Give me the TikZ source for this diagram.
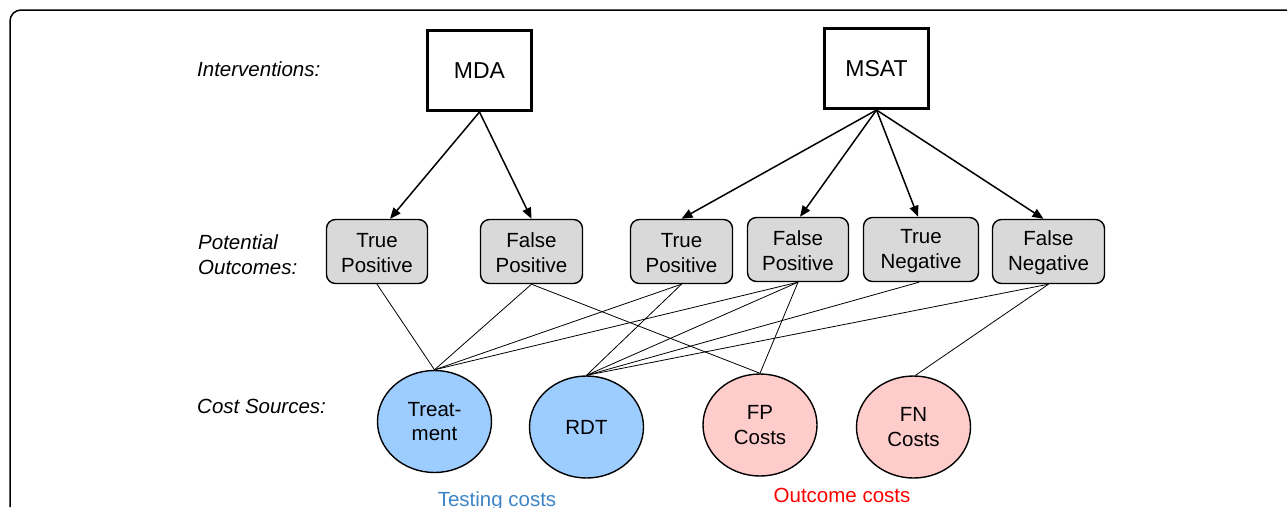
\documentclass[tikz,border=0pt]{standalone}
\usepackage{fontspec}
\setmainfont{Liberation Sans}
\usetikzlibrary{shapes.geometric,arrows.meta}
\definecolor{boxgray}{RGB}{217,217,217}
\definecolor{costblue}{RGB}{157,204,255}
\definecolor{costpink}{RGB}{255,204,204}
\definecolor{testblue}{RGB}{61,133,198}
\definecolor{outred}{RGB}{255,0,0}
\tikzset{
  x=1pt, y=-1pt,
  every node/.style={font=\fontsize{20.5}{24.5}\selectfont, inner sep=0pt},
  label/.style={font=\fontsize{20.5}{25}\selectfont\itshape, align=left},
  interv/.style={draw, line width=3pt, minimum width=104pt, minimum height=80pt, font=\fontsize{23}{27}\selectfont},
  outcome/.style={draw, line width=1.4pt, fill=boxgray, rounded corners=9pt, minimum height=64pt, align=center},
  cost/.style={draw, ellipse, line width=1.4pt, minimum width=114pt, minimum height=102pt, align=center},
  arr/.style={line width=1.5pt, -{Triangle[length=11pt,width=9pt]}},
  link/.style={line width=0.8pt},
}
\begin{document}
\begin{tikzpicture}
\useasboundingbox (0,0) rectangle (1287,507);
\draw[line width=1.5pt, rounded corners=11pt] (10,507) -- (10,10) -- (1287,10);

% row labels
\node[label, anchor=base west] (lint) at (197,76) {Interventions:};
\node[label, anchor=west] (lpot) at (198,255) {Potential\\Outcomes:};
\node[label, anchor=base west] (lcost) at (197,413) {Cost Sources:};

% interventions
\node[interv] (mda) at (479.5,70.5) {MDA};
\node[interv] (msat) at (876.5,68.5) {MSAT};

% outcomes
\node[outcome, minimum width=101pt] (tp1) at (377,251.5) {\strut True\\Positive};
\node[outcome, minimum width=102pt] (fp1) at (531.5,251.5) {\strut False\\Positive};
\node[outcome, minimum width=102pt] (tp2) at (681.5,251.5) {\strut True\\Positive};
\node[outcome, minimum width=101pt] (fp2) at (798,249.5) {\strut False\\Positive};
\node[outcome, minimum width=115pt] (tn) at (921,249.5) {\strut True\\Negative};
\node[outcome, minimum width=112pt] (fn) at (1048.5,251.5) {\strut False\\Negative};

% cost sources
\node[cost, fill=costblue] (trt) at (434.5,421.5) {Treat-\\ment};
\node[cost, fill=costblue] (rdt) at (586.5,427) {RDT};
\node[cost, fill=costpink] (fpc) at (760,425) {FP\\Costs};
\node[cost, fill=costpink] (fnc) at (913.5,427) {FN\\Costs};

% group captions
\node[text=testblue, anchor=base] (tc) at (497,506) {Testing costs};
\node[text=outred, anchor=base] (oc) at (842,502) {Outcome costs};

% arrows
\draw[arr] (mda.south) -- ([xshift=13pt]tp1.north);
\draw[arr] (mda.south) -- (fp1.north);
\draw[arr] (msat.south) -- (tp2.north);
\draw[arr] (msat.south) -- ([xshift=2pt]fp2.north);
\draw[arr] (msat.south) -- ([xshift=-3pt]tn.north);
\draw[arr] (msat.south) -- ([xshift=-5pt]fn.north);

% links
\draw[link] (tp1.south) -- (trt.north);
\draw[link] (fp1.south) -- (trt.north);
\draw[link] (tp2.south) -- (trt.north);
\draw[link] (fp2.south) -- (trt.north);
\draw[link] (tp2.south) -- (rdt.north);
\draw[link] (fp2.south) -- (rdt.north);
\draw[link] ([xshift=-2pt]tn.south) -- (rdt.north);
\draw[link] (fn.south) -- (rdt.north);
\draw[link] (fp1.south) -- (fpc.north);
\draw[link] (fp2.south) -- (fpc.north);
\draw[link] (fn.south) -- ([xshift=2pt]fnc.north);
\end{tikzpicture}
\end{document}
